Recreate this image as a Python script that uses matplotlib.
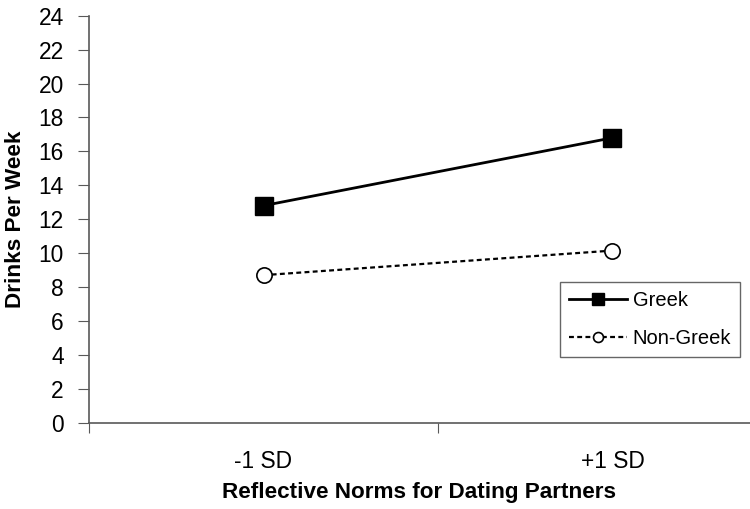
import matplotlib
matplotlib.use("Agg")
import matplotlib.pyplot as plt

categories = ["-1 SD", "+1 SD"]
greek = [12.8, 16.8]
non_greek = [8.7, 10.15]
y_ticks = list(range(0, 25, 2))

plt.rcParams['font.family'] = ['Liberation Sans', 'DejaVu Sans']

fig = plt.figure(figsize=(7.5, 5.09), dpi=100)
ax = fig.add_axes([89/750, 1-422.7/509, 698/750, 407/509])

xpos = [0.5, 1.5]
ax.plot(xpos, greek, color='black', lw=2.0, marker='s', markersize=13,
        markerfacecolor='black', markeredgecolor='black', label='Greek', clip_on=False)
ax.plot(xpos, non_greek, color='black', lw=1.6, ls=(0, (2.2, 1.5)), marker='o', markersize=11,
        markerfacecolor='white', markeredgecolor='black', markeredgewidth=1.2,
        label='Non-Greek', clip_on=False)

ax.set_xlim(0, 2)
ax.set_ylim(0, 24)
ax.set_yticks(y_ticks)
ax.set_yticklabels([str(v) for v in y_ticks], fontsize=16.4)
ax.set_xticks([0, 1, 2])
ax.set_xticklabels([])
ax.set_xticks(xpos, minor=True)
ax.set_xticklabels(categories, minor=True, fontsize=16.4)
ax.tick_params(axis='x', which='minor', length=0, pad=20)
ax.tick_params(axis='x', which='major', length=7, color='#595959', direction='out')
ax.tick_params(axis='y', length=8, color='#595959', direction='out', pad=10)

for s in ['top', 'right']:
    ax.spines[s].set_visible(False)
for s in ['left', 'bottom']:
    ax.spines[s].set_color('#595959')
    ax.spines[s].set_linewidth(1.2)

ax.set_xlabel("Reflective Norms for Dating Partners", fontsize=16.2, fontweight='bold', labelpad=4)
ax.xaxis.set_label_coords((419.5 - 89) / 698, -0.145)
ax.set_ylabel("Drinks Per Week", fontsize=16.2, fontweight='bold', labelpad=9)

leg = ax.legend(loc='upper left', bbox_to_anchor=(560/750, 1-282/509), bbox_transform=fig.transFigure,
                fontsize=14.5, frameon=True, fancybox=False, edgecolor='#404040',
                handlelength=2.9, markerscale=0.65, borderpad=0.45, labelspacing=0.95,
                handletextpad=0.25, borderaxespad=0)
leg.get_frame().set_linewidth(1.0)

fig.savefig("out.png", dpi=100)
